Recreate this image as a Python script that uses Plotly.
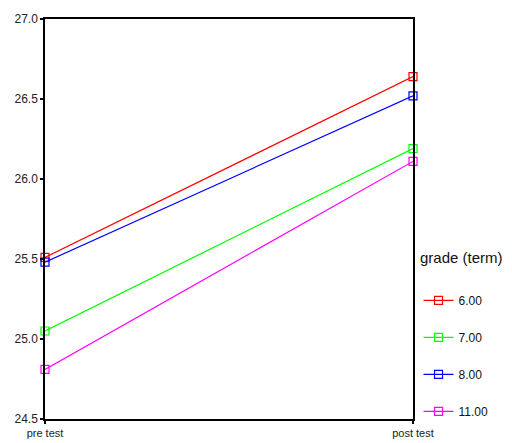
import plotly.graph_objects as go

categories = ["pre test", "post test"]
groups = ["6.00", "7.00", "8.00", "11.00"]
colors = ["#ff0000", "#00ff00", "#0000ff", "#ff00ff"]
values = {
    "6.00": [25.51, 26.64],
    "7.00": [25.05, 26.19],
    "8.00": [25.48, 26.52],
    "11.00": [24.81, 26.11],
}
y_ticks = [24.5, 25.0, 25.5, 26.0, 26.5, 27.0]
legend_title = "grade (term)"

fig = go.Figure()
for g, c in zip(groups, colors):
    fig.add_trace(go.Scatter(
        x=[0, 1], y=values[g], name=g, mode="lines+markers",
        line=dict(color=c, width=1.2),
        marker=dict(symbol="square-open", size=8, color=c, line=dict(width=1.2)),
        legendgroup=g, cliponaxis=False,
    ))

# page body has an 8px margin, so the figure is offset by (8, 8)
fig.update_layout(
    width=504, height=435,
    margin=dict(l=37, r=99, t=11, b=24, autoexpand=False),
    paper_bgcolor="white", plot_bgcolor="white",
    font=dict(family="Liberation Sans, Arial, sans-serif", size=12, color="#222"),
    showlegend=True,
    legend=dict(
        x=1.015, xanchor="left", y=0.333, yanchor="top",
        tracegroupgap=18, font=dict(size=12, color="#111"),
        bgcolor="rgba(0,0,0,0)",
    ),
    annotations=[dict(
        text=legend_title, xref="paper", yref="paper",
        x=1.0136, y=0.4025, xanchor="left", yanchor="middle",
        showarrow=False, font=dict(size=15, color="#111"),
    )],
    xaxis=dict(
        range=[0, 1], tickvals=[0, 1], ticktext=categories,
        showgrid=False, zeroline=False, automargin=False,
        showline=True, linecolor="black", linewidth=1.5, mirror=True,
        ticks="outside", ticklen=3, tickcolor="black", tickwidth=2,
        tickfont=dict(size=11),
    ),
    yaxis=dict(
        range=[24.5, 27.0], tickvals=y_ticks,
        ticktext=[f"{v:.1f}" for v in y_ticks],
        showgrid=False, zeroline=False, automargin=False,
        showline=True, linecolor="black", linewidth=1.5, mirror=True,
        ticks="outside", ticklen=3, tickcolor="black", tickwidth=2,
        tickfont=dict(size=12),
    ),
)

fig.write_html("out.html")
